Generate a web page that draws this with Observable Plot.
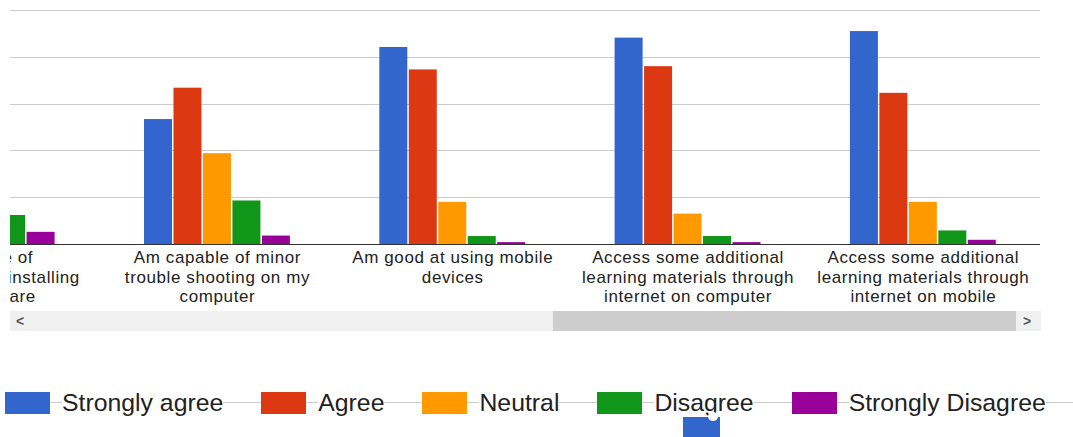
<!DOCTYPE html>
<html>
<head>
<meta charset="utf-8">
<script src="https://cdn.jsdelivr.net/npm/d3@7"></script>
<script src="https://cdn.jsdelivr.net/npm/@observablehq/plot@0.6"></script>
<style>
  html, body { margin: 0; padding: 0; background: #fff; }
  #page { position: relative; width: 1073px; height: 437px; overflow: hidden; background: #fff;
          font-family: "Liberation Sans", Arial, sans-serif; }
  #clip { position: absolute; left: 10px; top: 0; width: 1031px; height: 310px; overflow: hidden; }
  #chart { position: absolute; left: -146.4px; top: 0; }
  #chart g[aria-label="fx-axis tick label"] text { letter-spacing: 0.6px; }
  #track { position: absolute; left: 10px; top: 311px; width: 1031px; height: 20px; background: #f0f0f0; }
  #thumb { position: absolute; left: 543px; top: 0; width: 463px; height: 20px; background: #cdcdcd; }
  .arrow { position: absolute; top: 1px; font: bold 14px "Liberation Sans", Arial, sans-serif; color: #555; line-height: 18px; }
  #legendLine { position: absolute; left: 5px; top: 402px; width: 1068px; height: 1px; background: #cccccc; }
  #legend { position: absolute; left: 5px; top: 392px; height: 22px; display: flex; align-items: center; white-space: nowrap; }
  .sw { width: 45px; height: 22px; margin-right: 12px; flex: none; }
  .lt { font-size: 24.8px; color: #222; background: #fff; line-height: 22px; margin-right: 38px; }
  #blob { position: absolute; left: 683px; top: 417px; width: 37px; height: 20px; background: #3366cc; }
  #notch { position: absolute; left: 708px; top: 412px; width: 10px; height: 9px; border-radius: 50%; background: #fff; }
</style>
</head>
<body>
<div id="page">
  <div id="clip"><div id="chart"></div></div>
  <div id="track"><span class="arrow" style="left:6px">&lt;</span><div id="thumb"></div><span class="arrow" style="left:1013px">&gt;</span></div>
  <div id="legendLine"></div>
  <div id="legend"></div>
  <div id="blob"></div><div id="notch"></div>
</div>
<script>
// Categories (the first one is scrolled partly out of view in the reference)
const categories = [
  "Am aware of procedures for installing new software",
  "Am capable of minor trouble shooting on my computer",
  "Am good at using mobile devices",
  "Access some additional learning materials through internet on computer",
  "Access some additional learning materials through internet on mobile"
];
const tickLabels = [
  "Am aware of\nprocedures for installing\nnew software",
  "Am capable of minor\ntrouble shooting on my\ncomputer",
  "Am good at using mobile\ndevices",
  "Access some additional\nlearning materials through\ninternet on computer",
  "Access some additional\nlearning materials through\ninternet on mobile"
];
const series = ["Strongly agree", "Agree", "Neutral", "Disagree", "Strongly Disagree"];
const colors = ["#3366cc", "#dc3912", "#ff9900", "#109618", "#990099"];

// Values per series, one per category
const stronglyAgree    = [28.0, 26.7, 42.1, 44.1, 45.5];
const agree            = [35.0, 33.4, 37.3, 38.0, 32.3];
const neutral          = [18.0, 19.4,  9.0,  6.5,  9.0];
const disagree         = [ 6.2,  9.3,  1.7,  1.7,  2.9];
const stronglyDisagree = [ 2.6,  1.8,  0.4,  0.4,  0.9];
const yTicks = [10, 20, 30, 40, 50];

const seriesValues = [stronglyAgree, agree, neutral, disagree, stronglyDisagree];
const data = series.flatMap((s, i) =>
  categories.map((c, j) => ({category: c, series: s, value: seriesValues[i][j]})));
const facetRows = categories.map((c) => ({category: c}));

const chart = Plot.plot({
  width: 1176.5,
  height: 310,
  marginLeft: 0,
  marginRight: 0,
  marginTop: 10,
  marginBottom: 66,
  style: {fontFamily: "'Liberation Sans', Arial, sans-serif", background: "transparent", color: "#222"},
  fx: {domain: categories, paddingInner: 0.38, paddingOuter: 0.19, round: false, label: null},
  x: {domain: series, paddingInner: 0.05, paddingOuter: 0, round: false, axis: null},
  y: {domain: [0, 50], axis: null},
  color: {domain: series, range: colors},
  marks: [
    // grid lines drawn in every facet and stretched across the gaps between groups
    Plot.ruleY(facetRows.flatMap((r) => yTicks.map((t) => ({...r, t}))),
      {fx: "category", y: "t", stroke: "#cccccc", insetLeft: -60, insetRight: -60, shapeRendering: "crispEdges"}),
    Plot.barY(data, {fx: "category", x: "series", y: "value", fill: "series"}),
    Plot.ruleY(facetRows, {fx: "category", y: () => 0, stroke: "#333333", insetLeft: -60, insetRight: -60, shapeRendering: "crispEdges"}),
    Plot.axisFx({
      anchor: "bottom",
      tickSize: 0,
      tickPadding: 5,
      fontSize: 17,
      lineHeight: 1.15,
      color: "#222",
      label: null,
      tickFormat: (d) => tickLabels[categories.indexOf(d)]
    })
  ]
});
document.getElementById("chart").appendChild(chart);

// Legend
const legend = document.getElementById("legend");
series.forEach((s, i) => {
  const sw = document.createElement("div");
  sw.className = "sw";
  sw.style.background = colors[i];
  const t = document.createElement("span");
  t.className = "lt";
  t.textContent = s;
  legend.appendChild(sw);
  legend.appendChild(t);
});
</script>
</body>
</html>
